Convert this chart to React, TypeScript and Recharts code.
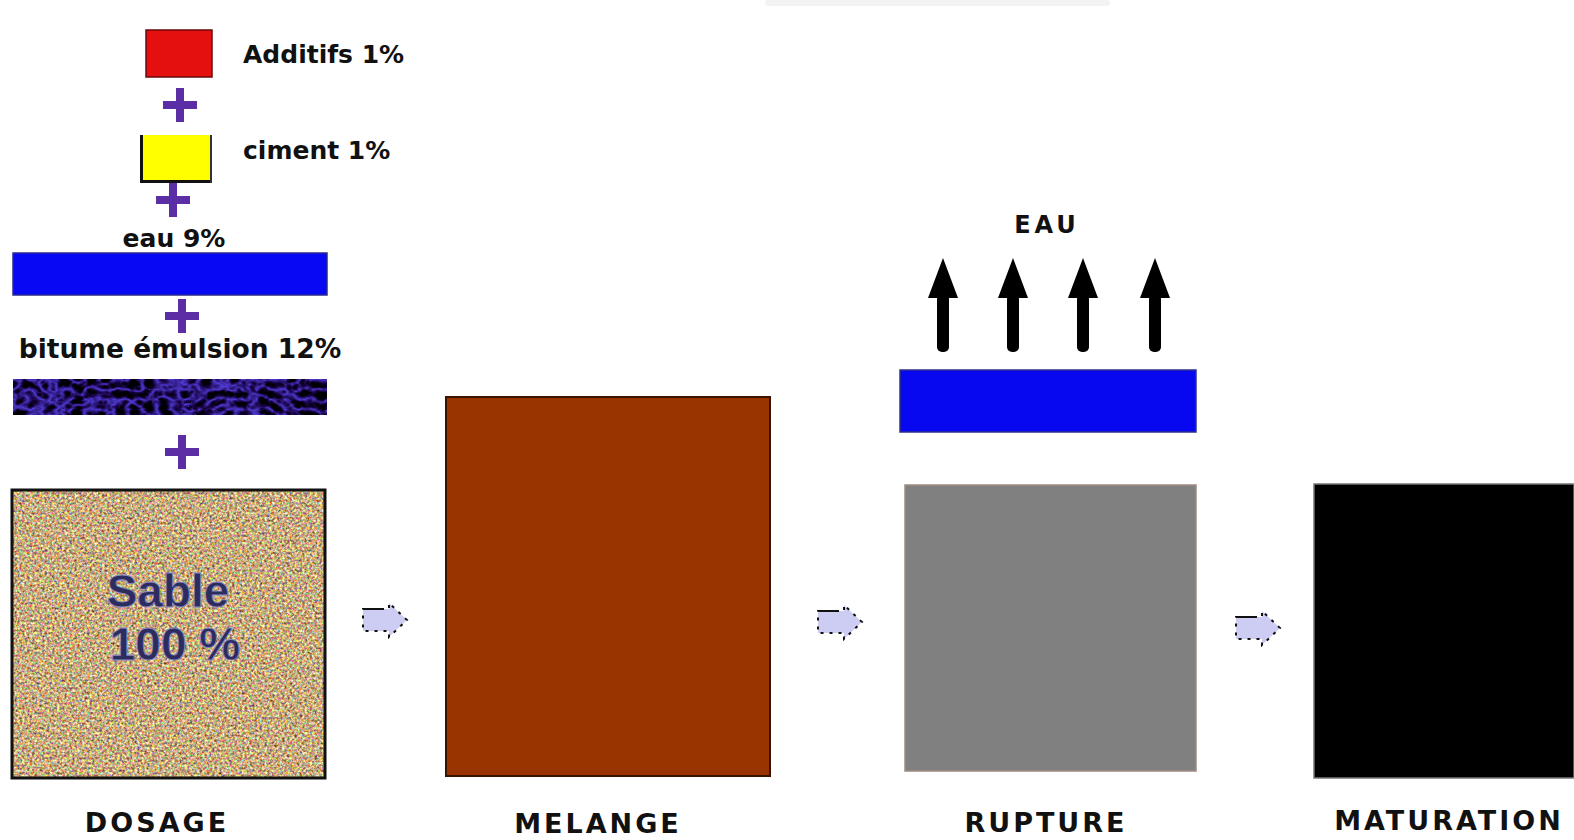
import { ComposedChart, XAxis, YAxis, ReferenceArea, Scatter } from 'recharts';

// the diagram lives on a 1574 x 840 value grid, y grows downwards
const W = 1574;
const H = 840;

const ingredients = ['Additifs', 'ciment', 'eau', 'bitume émulsion', 'Sable'];
const ingredientPct = [1, 1, 9, 12, 100];
const ingX1 = [146, 140, 13, 13, 12];
const ingX2 = [212, 212, 327, 327, 325];
const ingY1 = [30, 135, 253, 379, 490];
const ingY2 = [77, 183, 295, 415, 778];
const ingLabelX = [243, 243, 174, 180, 168];
const ingLabelY = [63, 159, 247, 358, 607];

const stages = ['DOSAGE', 'MELANGE', 'RUPTURE', 'MATURATION'];
const stageLabelX = [157, 598, 1046, 1449];
const stageLabelY = [832, 833, 832, 830];
const stageX1 = [446, 905, 1314];
const stageX2 = [770, 1196, 1574];
const stageY1 = [397, 485, 484];
const stageY2 = [776, 771, 778];

const plusX = [180, 173, 182, 182];
const plusY = [105, 200, 316, 452];

const stepArrowX = [385, 840, 1258];
const stepArrowY = [620, 622, 628];

const waterArrowX = [943, 1013, 1083, 1155];
const waterArrowTop = 258;
const waterArrowBottom = 352;
const waterLayer = { x1: 900, x2: 1196, y1: 370, y2: 432 };

const textPoints = [
  ...ingredients.slice(0, 4).map((name, i) => ({
    x: ingLabelX[i],
    y: ingLabelY[i],
    label: `${name} ${ingredientPct[i]}%`,
    anchor: i < 2 ? 'start' : 'middle',
    size: i === 3 ? 26.5 : 25,
  })),
];
const sablePoints = [
  { x: ingLabelX[4], y: ingLabelY[4], label: ingredients[4] },
  { x: ingLabelX[4] + 7, y: ingLabelY[4] + 53, label: `${ingredientPct[4]} %` },
];
const stagePoints = stages.map((s, i) => ({ x: stageLabelX[i], y: stageLabelY[i], label: s }));
const plusPoints = plusX.map((x, i) => ({ x, y: plusY[i] }));
const stepPoints = stepArrowX.map((x, i) => ({ x, y: stepArrowY[i] }));
const headPoints = waterArrowX.map((x) => ({ x, y: waterArrowTop }));
const eauPoint = [{ x: 1047, y: 233, label: 'EAU' }];

const boldFont = '"DejaVu Sans", sans-serif';
const ingColors = ['#e41010', '#ffff00', '#0808f4'];

const PlusShape = (p: any) => (
  <g fill="#5b2ea6">
    <rect x={p.cx - 17} y={p.cy - 4} width={34} height={8} />
    <rect x={p.cx - 4} y={p.cy - 17} width={8} height={34} />
  </g>
);

const StepArrow = (p: any) => {
  const { cx, cy } = p;
  const pts = `${cx - 22},${cy - 11} ${cx + 4},${cy - 11} ${cx + 4},${cy - 17} ${cx + 22},${cy} ${cx + 4},${cy + 17} ${cx + 4},${cy + 11} ${cx - 22},${cy + 11}`;
  return (
    <g>
      <polygon points={pts} fill="#cdcdf4" stroke="#111" strokeWidth={2} strokeDasharray="3 6" />
      <line x1={cx - 20} y1={cy - 11} x2={cx - 2} y2={cy - 11} stroke="#111" strokeWidth={2} />
    </g>
  );
};

const HeadShape = (p: any) => (
  <polygon
    points={`${p.cx},${p.cy} ${p.cx + 15},${p.cy + 40} ${p.cx - 15},${p.cy + 40}`}
    fill="#000"
  />
);

const TextShape = (p: any) => (
  <text
    x={p.cx}
    y={p.cy}
    textAnchor={p.payload.anchor}
    fontFamily={boldFont}
    fontWeight="bold"
    fontSize={p.payload.size}
    fill="#111"
  >
    {p.payload.label}
  </text>
);

const SableText = (p: any) => (
  <text
    x={p.cx}
    y={p.cy}
    textAnchor="middle"
    fontFamily='"Liberation Sans", Arial, sans-serif'
    fontWeight="bold"
    fontSize={46}
    fill="#2c2c5e"
    stroke="#8a8ac8"
    strokeWidth={0.8}
  >
    {p.payload.label}
  </text>
);

const StageText = (p: any) => (
  <text
    x={p.cx}
    y={p.cy}
    textAnchor="middle"
    fontFamily={boldFont}
    fontWeight="bold"
    fontSize={p.payload.label === 'EAU' ? 24 : 27}
    letterSpacing={p.payload.label === 'EAU' ? 4 : 3}
    fill="#111"
  >
    {p.payload.label}
  </text>
);

const textured = (filterId: string) => (p: any) => (
  <rect x={p.x} y={p.y} width={p.width} height={p.height} fill="#fff" filter={`url(#${filterId})`} />
);

export default function App() {
  return (
    <div style={{ position: 'absolute', left: 0, top: 0, width: W, height: H, background: '#fff' }}>
      <ComposedChart width={W} height={H} margin={{ top: 0, right: 0, bottom: 0, left: 0 }}>
        <defs>
          <filter id="sand" x="0" y="0" width="100%" height="100%" colorInterpolationFilters="sRGB">
            <feTurbulence type="fractalNoise" baseFrequency="0.4" numOctaves={3} seed={4} result="n" />
            <feColorMatrix
              in="n"
              type="matrix"
              values="1.2 0.3 0 0 0.03  0.3 1.2 0 0 -0.08  0 0.5 1.0 0 -0.25  0 0 0 0 1"
              result="c"
            />
            <feComposite in="c" in2="SourceGraphic" operator="in" />
          </filter>
          <filter id="bitume" x="0" y="0" width="100%" height="100%" colorInterpolationFilters="sRGB">
            <feTurbulence type="turbulence" baseFrequency="0.07 0.1" numOctaves={2} seed={7} result="n" />
            <feColorMatrix
              in="n"
              type="matrix"
              values="-0.7 0 0 0 0.32  -0.7 0 0 0 0.24  -1.8 0 0 0 0.85  0 0 0 0 1"
              result="c"
            />
            <feComposite in="c" in2="SourceGraphic" operator="in" />
          </filter>
        </defs>
        <XAxis type="number" dataKey="x" domain={[0, W]} allowDataOverflow hide />
        <YAxis type="number" dataKey="y" domain={[0, H]} allowDataOverflow reversed hide />

        {/* faint shadow along the top edge */}
        <ReferenceArea x1={765} x2={1110} y1={0} y2={6} fill="#f3f3f3" fillOpacity={1} stroke="none" radius={3} />

        {/* ingredients */}
        {[0, 2].map((i) => (
          <ReferenceArea
            key={`ing-${i}`}
            x1={ingX1[i]}
            x2={ingX2[i]}
            y1={ingY1[i]}
            y2={ingY2[i]}
            fill={ingColors[i]}
            fillOpacity={1}
            stroke={i === 0 ? '#6a0a0a' : '#2a2a90'}
            strokeWidth={1.5}
          />
        ))}
        <ReferenceArea x1={ingX1[1]} x2={ingX2[1]} y1={ingY1[1]} y2={ingY2[1]} fill={ingColors[1]} fillOpacity={1} stroke="none" />
        <ReferenceArea x1={ingX1[1]} x2={ingX1[1] + 3} y1={ingY1[1]} y2={ingY2[1]} fill="#111" fillOpacity={1} stroke="none" />
        <ReferenceArea x1={ingX1[1]} x2={ingX2[1]} y1={ingY2[1] - 3} y2={ingY2[1]} fill="#111" fillOpacity={1} stroke="none" />
        <ReferenceArea x1={ingX2[1] - 2} x2={ingX2[1]} y1={ingY1[1]} y2={ingY2[1]} fill="#333" fillOpacity={1} stroke="none" />

        <ReferenceArea x1={ingX1[3]} x2={ingX2[3]} y1={ingY1[3]} y2={ingY2[3]} shape={textured('bitume')} />
        <ReferenceArea x1={ingX1[4]} x2={ingX2[4]} y1={ingY1[4]} y2={ingY2[4]} shape={textured('sand')} />
        <ReferenceArea
          x1={ingX1[4]}
          x2={ingX2[4]}
          y1={ingY1[4]}
          y2={ingY2[4]}
          fill="none"
          fillOpacity={0}
          stroke="#111"
          strokeWidth={3}
        />

        {/* stages */}
        <ReferenceArea x1={stageX1[0]} x2={stageX2[0]} y1={stageY1[0]} y2={stageY2[0]} fill="#993300" fillOpacity={1} stroke="#3a1200" strokeWidth={2} />
        <ReferenceArea x1={stageX1[1]} x2={stageX2[1]} y1={stageY1[1]} y2={stageY2[1]} fill="#808080" fillOpacity={1} stroke="#9a8a80" strokeWidth={1.5} />
        <ReferenceArea x1={stageX1[2]} x2={stageX2[2]} y1={stageY1[2]} y2={stageY2[2]} fill="#000" fillOpacity={1} stroke="#777" strokeWidth={1.5} />

        {/* water leaving at rupture */}
        <ReferenceArea
          x1={waterLayer.x1}
          x2={waterLayer.x2}
          y1={waterLayer.y1}
          y2={waterLayer.y2}
          fill="#0808f0"
          fillOpacity={1}
          stroke="#30308a"
          strokeWidth={1.5}
        />
        {waterArrowX.map((x) => (
          <ReferenceArea
            key={`shaft-${x}`}
            x1={x - 6}
            x2={x + 6}
            y1={waterArrowTop + 36}
            y2={waterArrowBottom}
            fill="#000"
            fillOpacity={1}
            stroke="none"
            radius={5}
          />
        ))}

        <Scatter data={headPoints} shape={HeadShape} isAnimationActive={false} />
        <Scatter data={plusPoints} shape={PlusShape} isAnimationActive={false} />
        <Scatter data={stepPoints} shape={StepArrow} isAnimationActive={false} />
        <Scatter data={textPoints} shape={TextShape} isAnimationActive={false} />
        <Scatter data={sablePoints} shape={SableText} isAnimationActive={false} />
        <Scatter data={stagePoints} shape={StageText} isAnimationActive={false} />
        <Scatter data={eauPoint} shape={StageText} isAnimationActive={false} />
      </ComposedChart>
    </div>
  );
}
